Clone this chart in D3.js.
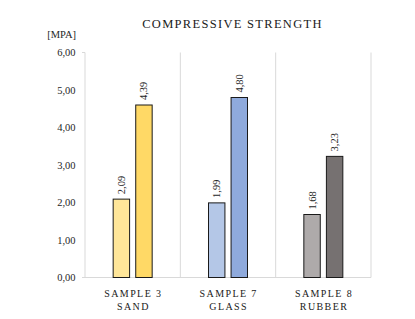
<!DOCTYPE html>
<html><head><meta charset="utf-8">
<script src="https://cdn.jsdelivr.net/npm/d3@7"></script>
<style>body{margin:0;background:#fff}svg{display:block}</style>
</head><body><svg id="c" width="415" height="319"></svg>
<script>
const categories = [["SAMPLE 3","SAND"],["SAMPLE 7","GLASS"],["SAMPLE 8","RUBBER"]];
const series1Values = [2.09, 1.99, 1.68];
const series2Values = [4.60, 4.80, 3.23];
const series1Labels = ["2,09","1,99","1,68"];
const series2Labels = ["4,39","4,80","3,23"];
const lightColors = ["#FFE699","#B4C7E7","#AEAAAA"];
const darkColors = ["#FFD966","#8FAADC","#767171"];
const yTicks = [0,1,2,3,4,5,6];

const svg = d3.select("#c");
const font = "'Liberation Serif','DejaVu Serif',serif";
const m = {l:85, r:371, t:52.5, b:277.5};
const x = d3.scaleBand().domain(d3.range(categories.length)).range([m.l, m.r]).padding(0);
const y = d3.scaleLinear().domain([0,6]).range([m.b, m.t]);

// band separators
const bounds = d3.range(categories.length+1).map(i => i < categories.length ? x(i) : x(i-1)+x.bandwidth());
svg.selectAll("line.sep").data(bounds).join("line")
  .attr("x1", d=>d).attr("x2", d=>d).attr("y1", m.t).attr("y2", m.b)
  .attr("stroke","#d9d9d9").attr("stroke-width",1);
svg.append("line").attr("x1", m.l-3).attr("x2", m.l).attr("y1", m.t).attr("y2", m.t).attr("stroke","#d9d9d9");
svg.append("line").attr("x1", m.l-3).attr("x2", m.r).attr("y1", m.b).attr("y2", m.b).attr("stroke","#d9d9d9");

// y tick labels
svg.selectAll("text.yt").data(yTicks).join("text")
  .attr("x", 75.5).attr("y", d=>y(d)+3.5)
  .attr("text-anchor","end").attr("font-family",font).attr("font-size",10.5).attr("fill","#262626")
  .text(d=>d3.format(".2f")(d).replace(".",","));

svg.append("text").attr("x",76).attr("y",38).attr("text-anchor","end")
  .attr("font-family",font).attr("font-size",10.5).attr("fill","#262626").text("[MPA]");

svg.append("text").attr("x",232.5).attr("y",28).attr("text-anchor","middle")
  .attr("font-family",font).attr("font-size",12.5).attr("letter-spacing",1.3).attr("fill","#1a1a1a")
  .text("COMPRESSIVE STRENGTH");

const bw = 14.2, gap = 10.6;
const inner = d3.scaleBand().domain([0,1]).range([-(bw+gap/2), bw+gap/2]).paddingInner(gap/(2*bw+gap));

function drawSeries(vals, labels, colors, idx) {
  const g = svg.append("g");
  vals.forEach((v,i) => {
    const cx = x(i) + x.bandwidth()/2;
    const bx = cx + inner(idx);
    g.append("rect").attr("x", bx).attr("y", y(v)).attr("width", inner.bandwidth())
      .attr("height", y(0)-y(v)).attr("fill", colors[i]).attr("stroke","#1a1a1a").attr("stroke-width",1);
    const tx = bx + inner.bandwidth()/2 + 3.5, ty = y(v) - 5;
    g.append("text").attr("transform", `translate(${tx},${ty}) rotate(-90)`)
      .attr("font-family",font).attr("font-size",10.5).attr("fill","#262626").text(labels[i]);
  });
}
drawSeries(series1Values, series1Labels, lightColors, 0);
drawSeries(series2Values, series2Labels, darkColors, 1);

// category labels
categories.forEach((c,i) => {
  const cx = x(i) + x.bandwidth()/2;
  c.forEach((line,j) => {
    svg.append("text").attr("x", cx+0.7).attr("y", 297 + j*12.5).attr("text-anchor","middle")
      .attr("font-family",font).attr("font-size",10).attr("letter-spacing",1.4).attr("fill","#1a1a1a").text(line);
  });
});
</script></body></html>
